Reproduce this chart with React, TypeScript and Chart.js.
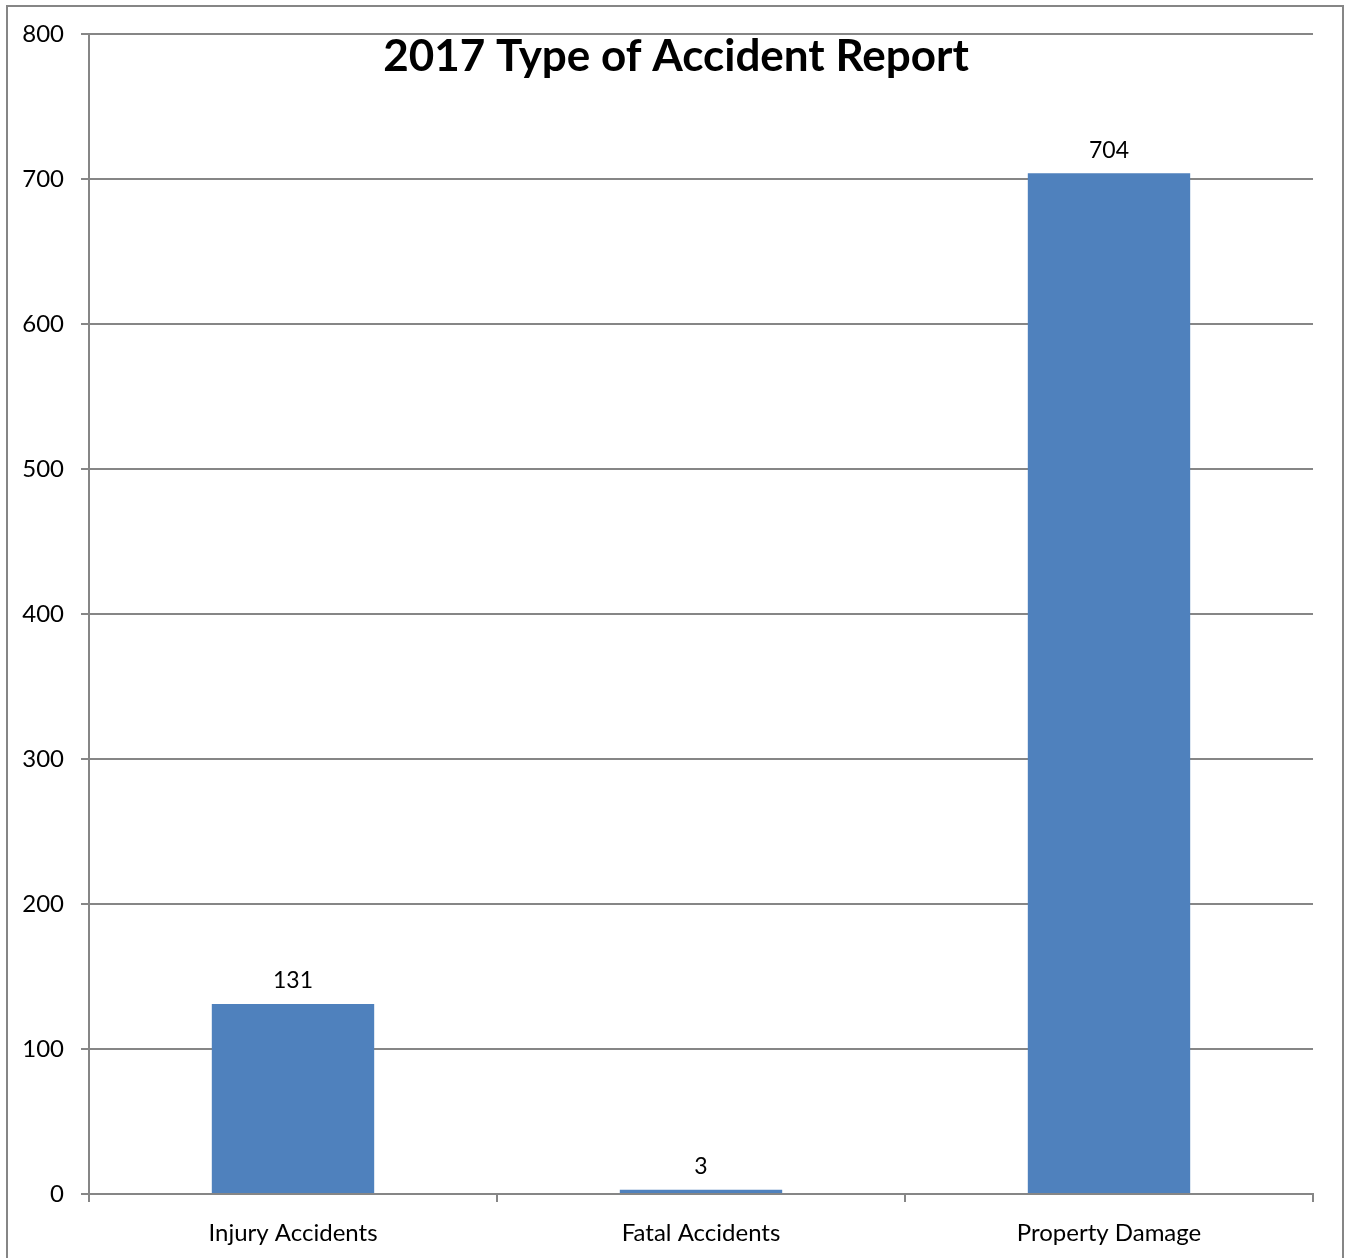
import React, { useEffect, useRef } from "react";
import { Chart, registerables } from "chart.js";

Chart.register(...registerables);

const TITLE = "2017 Type of Accident Report";
const categories = ["Injury Accidents", "Fatal Accidents", "Property Damage"];
const values = [131, 3, 704];
const yMin = 0;
const yMax = 800;
const yStep = 100;

const FONT = "Lato, 'Open Sans', sans-serif";

const decorPlugin = {
  id: "decor",
  beforeDraw(chart: any) {
    const ctx = chart.ctx;
    ctx.save();
    ctx.fillStyle = "#ffffff";
    ctx.fillRect(0, 0, chart.width, chart.height);
    ctx.strokeStyle = "#868686";
    ctx.lineWidth = 2;
    ctx.strokeRect(7, 6, 1336, 1300);
    ctx.restore();
  },
  afterDraw(chart: any) {
    const ctx = chart.ctx;
    const area = chart.chartArea;
    ctx.save();
    ctx.fillStyle = "#000000";
    ctx.textAlign = "center";
    ctx.textBaseline = "middle";
    ctx.font = `bold 44px ${FONT}`;
    ctx.fillText(TITLE, (area.left + area.right) / 2 - 25, 57);
    ctx.font = `23px ${FONT}`;
    const meta = chart.getDatasetMeta(0);
    meta.data.forEach((bar: any, i: number) => {
      ctx.fillText(String(values[i]), bar.x, bar.y - 23);
    });
    ctx.restore();
  },
};

export default function App() {
  const ref = useRef<HTMLCanvasElement | null>(null);
  useEffect(() => {
    document.body.style.margin = "0";
    const canvas = ref.current!;
    const chart = new Chart(canvas, {
      type: "bar",
      data: {
        labels: categories,
        datasets: [
          {
            data: values,
            backgroundColor: "#4F81BD",
            borderWidth: 0,
            barPercentage: 0.398,
            categoryPercentage: 1,
          },
        ],
      },
      options: {
        animation: false,
        responsive: false,
        devicePixelRatio: 1,
        layout: { padding: { left: 0, top: 34, right: 35, bottom: 0 } },
        plugins: {
          legend: { display: false },
          title: { display: false },
          tooltip: { enabled: false },
        },
        scales: {
          x: {
            grid: {
              display: true,
              drawOnChartArea: false,
              offset: true,
              tickLength: 8,
              color: "#868686",
              lineWidth: 2,
            },
            border: { display: true, color: "#868686", width: 2 },
            ticks: {
              color: "#000000",
              font: { family: FONT, size: 24 },
              padding: 17,
            },
            afterFit: (s: any) => {
              s.height = 1258 - 1194;
            },
          },
          y: {
            min: yMin,
            max: yMax,
            grid: {
              color: "#868686",
              lineWidth: 2,
              tickLength: 8,
            },
            border: { display: true, color: "#868686", width: 2 },
            ticks: {
              stepSize: yStep,
              color: "#000000",
              font: { family: FONT, size: 24 },
              padding: 17,
            },
            afterFit: (s: any) => {
              s.width = 89;
            },
          },
        },
      },
      plugins: [decorPlugin],
    });
    return () => chart.destroy();
  }, []);
  return <canvas ref={ref} width={1348} height={1258} style={{ display: "block" }} />;
}
